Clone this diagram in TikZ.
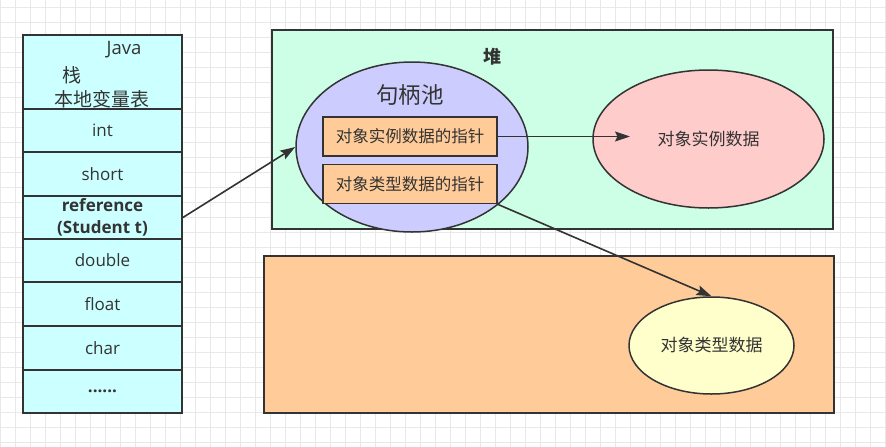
\documentclass[tikz,border=0pt]{standalone}
\usepackage{fontspec}
\setmainfont{Open Sans}
\newfontfamily\cjk{Noto Sans CJK SC}
\usetikzlibrary{arrows.meta,shapes.geometric}
\definecolor{ink}{RGB}{51,51,51}
\definecolor{gridc}{RGB}{232,232,232}
\definecolor{stackfill}{RGB}{204,255,255}
\definecolor{heapfill}{RGB}{204,255,230}
\definecolor{poolfill}{RGB}{204,204,255}
\definecolor{ptrfill}{RGB}{255,204,153}
\definecolor{instfill}{RGB}{255,204,204}
\definecolor{typefill}{RGB}{255,255,204}

\begin{document}
\begin{tikzpicture}[x=1pt,y=-1pt,
  cell/.style={draw=ink, line width=1.8pt, fill=stackfill, minimum width=159pt, inner sep=0pt,
    text=ink, align=center, font=\fontsize{17}{22}\selectfont},
  area/.style={draw=ink, line width=1.8pt, inner sep=0pt},
  blob/.style={ellipse, draw=ink, line width=1.5pt, inner sep=0pt, text=ink},
  ptrbox/.style={draw=ink, line width=1.8pt, fill=ptrfill, minimum width=174pt, minimum height=39pt,
    inner sep=0pt, text=ink, font=\cjk\fontsize{16.5}{18}\selectfont},
  link/.style={draw=ink, line width=1.6pt, -{Stealth[length=15pt,width=10pt,inset=2.5pt]}}]
\useasboundingbox (0,0) rectangle (886,447);
\fill[white] (0,0) rectangle (886,447);
\foreach \gx in {0,15,...,885} \draw[gridc, line width=0.8pt] (\gx,0) -- (\gx,447);
\foreach \gy in {7,22,...,447} \draw[gridc, line width=0.8pt] (0,\gy) -- (886,\gy);
% stack frame
\node[cell, minimum height=74pt] (head) at (102.5,72) {};
\node[text=ink, font=\fontsize{18.5}{20}\selectfont] (javaLbl) at (124,50) {Java};
\node[text=ink, font=\cjk\fontsize{19}{20}\selectfont] (stackLbl) at (72,75) {栈};
\node[text=ink, font=\cjk\fontsize{19}{20}\selectfont] (localsLbl) at (102,99) {本地变量表};
\foreach \nm/\txt/\ya/\yb in {int/int/109/152, short/short/152/196,
  ref/{\bfseries reference\\\bfseries (Student t)}/196/239, double/double/239/282,
  float/float/282/326, char/char/326/370, more/{\bfseries ......}/370/413}
  \node[cell, minimum height={\yb-\ya}] (\nm) at (102.5,{(\ya+\yb)/2}) {\txt};
% heap and the area below it
\node[area, fill=heapfill, minimum width=561pt, minimum height=199pt] (heap) at (552.5,129.5) {};
\node[text=ink, font=\cjk\bfseries\fontsize{18}{20}\selectfont] (heapLbl) at (492,57) {堆};
\node[area, fill=ptrfill, minimum width=570pt, minimum height=157pt] (typearea) at (549,334.5) {};
\node[blob, fill=poolfill, minimum width=232pt, minimum height=170pt] (pool) at (412,147) {};
\node[text=ink, font=\cjk\fontsize{22.5}{24}\selectfont] (poolLbl) at (410,95) {句柄池};
\node[ptrbox] (instPtr) at (410,136.5) {对象实例数据的指针};
\node[ptrbox] (typePtr) at (410,184) {对象类型数据的指针};
\node[blob, fill=instfill, minimum width=231pt, minimum height=138pt,
  font=\cjk\fontsize{17}{18}\selectfont] (instData) at (708.5,139) {对象实例数据};
\node[blob, fill=typefill, minimum width=165pt, minimum height=97pt,
  font=\cjk\fontsize{17}{18}\selectfont] (typeData) at (711.5,345.5) {对象类型数据};
% pointers
\coordinate (instTip) at (630,136.5);
\draw[link] (ref.east) -- (pool.west);
\draw[link] (instPtr.east) -- (instTip);
\draw[link] (typePtr.south east) -- (typeData.north);
\end{tikzpicture}
\end{document}
